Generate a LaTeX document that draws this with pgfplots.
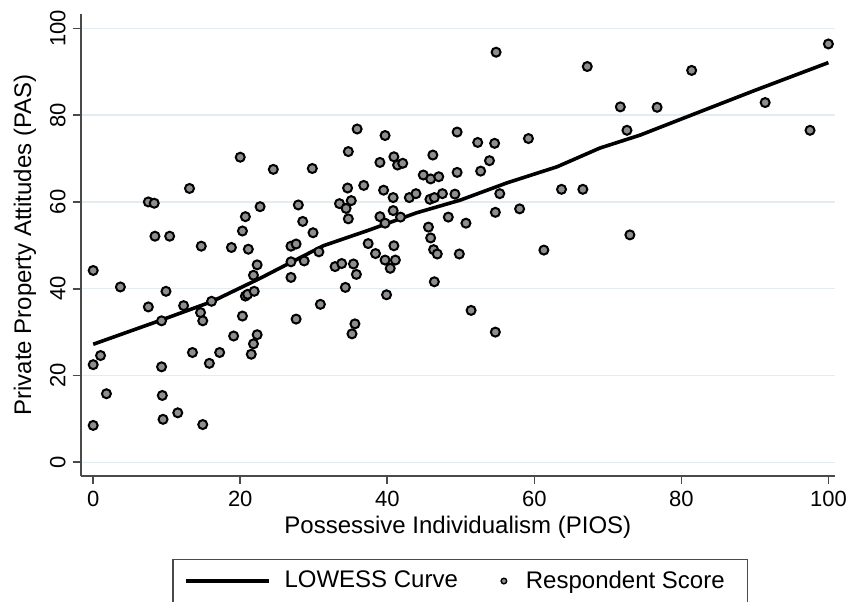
\documentclass[border=0pt]{standalone}
\usepackage{fontspec}
\setmainfont{Liberation Sans}
\usepackage{pgfplots}
\usepackage{pgfplotstable}
\pgfplotsset{compat=1.18}

\definecolor{gridc}{HTML}{E4ECEF}
\definecolor{markfill}{HTML}{8E8E8E}
\definecolor{axisc}{HTML}{4A4A4A}

% Respondent scores: PIOS (x) against PAS (y)
\pgfplotstableread{
x y
0.0 44.2
0.0 22.5
0.0 8.5
1.0 24.6
1.8 15.8
3.7 40.4
7.5 60.0
8.3 59.7
7.5 35.8
8.4 52.1
10.4 52.1
9.9 39.4
9.3 32.6
9.3 22.0
9.4 15.4
9.5 9.9
11.5 11.4
12.3 36.1
13.1 63.1
13.5 25.3
14.7 49.8
14.6 34.5
14.9 32.6
14.9 8.7
15.8 22.8
16.1 37.1
17.2 25.3
18.8 49.5
19.1 29.1
20.0 70.3
20.7 56.6
20.3 53.3
21.1 49.1
20.7 38.3
21.0 38.7
21.9 39.4
20.3 33.7
21.8 43.1
22.3 45.5
22.3 29.4
21.8 27.3
21.5 24.9
22.7 58.9
24.5 67.5
26.9 49.8
27.6 50.3
26.9 46.2
26.9 42.6
27.6 33.0
27.9 59.3
28.5 55.5
28.7 46.4
29.8 67.7
29.9 52.9
30.7 48.5
30.9 36.4
32.9 45.1
33.5 59.6
33.8 45.8
34.3 40.3
34.6 63.2
34.7 71.6
35.1 60.3
34.4 58.5
34.7 56.1
35.4 45.7
35.8 43.3
35.6 31.9
35.2 29.6
35.9 76.8
36.8 63.8
37.4 50.4
38.4 48.1
39.0 69.1
39.7 75.3
39.5 62.7
39.0 56.6
39.7 55.1
39.7 46.6
39.9 38.6
40.9 70.4
40.8 61.0
40.8 58.0
40.9 49.9
41.1 46.6
40.4 44.7
41.4 68.5
42.1 68.9
41.8 56.5
43.0 61.0
43.9 61.9
44.9 66.2
45.9 65.3
47.0 65.8
45.8 60.6
46.4 61.0
47.5 61.9
45.6 54.2
45.9 51.7
46.3 49.0
46.8 48.0
46.4 41.6
46.2 70.8
48.3 56.5
49.2 61.8
49.5 66.8
49.5 76.1
49.8 48.0
50.7 55.1
51.4 35.0
52.3 73.7
52.7 67.1
53.9 69.5
54.6 73.5
54.7 57.6
55.3 61.9
54.7 30.0
54.8 94.5
58.0 58.4
59.2 74.6
61.3 48.9
63.7 62.9
66.6 62.9
67.2 91.2
71.7 81.9
72.6 76.5
73.0 52.4
76.7 81.8
81.4 90.3
91.4 82.9
97.5 76.5
100.0 96.4
}\scores

% LOWESS smooth of PAS on PIOS
\pgfplotstableread{
x y
0.0 27.2
9.3 32.8
16.1 37.0
22.7 42.4
31.3 49.9
37.5 53.5
44.0 57.5
49.9 60.4
56.3 64.4
63.1 68.1
68.9 72.4
74.4 75.4
81.2 79.9
90.0 85.7
100.0 92.1
}\lowess

\begin{document}
\begin{tikzpicture}
\useasboundingbox (-40.35pt,-62.5pt) rectangle (384.15pt,238pt);
\begin{axis}[
  at={(0pt,0pt)}, anchor=south west,
  scale only axis, width=377.15pt, height=231pt,
  xmin=-1.7, xmax=100.9, ymin=-3.16, ymax=103.3,
  axis x line*=bottom, axis y line*=left,
  axis line style={axisc, line width=0.8pt, -},
  xtick={0,20,...,100}, ytick={0,20,...,100},
  tick align=outside, major tick length=4pt,
  tick style={axisc, line width=0.8pt},
  ymajorgrids, grid style={gridc, line width=0.7pt},
  /pgf/number format/assume math mode=true,
  ticklabel style={font=\fontsize{11}{13}\selectfont},
  yticklabel style={rotate=90, anchor=south},
  xlabel={Possessive Individualism (PIOS)},
  ylabel={Private Property Attitudes (PAS)},
  every axis x label/.style={at={(axis description cs:0.5,-0.1104)}, anchor=center,
    font=\fontsize{12}{14}\selectfont},
  every axis y label/.style={at={(axis description cs:-0.0738,0.5)}, rotate=90, anchor=center,
    font=\fontsize{12}{14}\selectfont},
  legend columns=2,
  legend style={at={(axis description cs:0.503,-0.1797)}, anchor=north,
    draw=axisc, line width=0.6pt, inner xsep=5.5pt, inner ysep=5.6pt,
    font=\fontsize{12}{14}\selectfont,
    nodes={inner sep=0pt},
    /tikz/every odd column/.append style={column sep=7pt},
    /tikz/every even column/.append style={column sep=19pt}},
]
\addplot[black, line width=1.8pt, no marks,
  legend image code/.code={\draw[black, line width=1.8pt] (0pt,0pt) -- (41.5pt,0pt);}]
  table[x=x, y=y] {\lowess};
\addlegendentry{LOWESS Curve}
\addplot[only marks, mark=*, mark size=2.25pt,
  mark options={fill=markfill, draw=black, line width=1pt},
  legend image code/.code={\path[draw=none] (0pt,0pt) -- (8pt,0pt);
    \filldraw[fill=markfill, draw=black, line width=0.7pt] (4pt,0pt) circle (1.4pt);}]
  table[x=x, y=y] {\scores};
\addlegendentry{Respondent Score\hspace*{5.8pt}}
\end{axis}
\end{tikzpicture}
\end{document}
